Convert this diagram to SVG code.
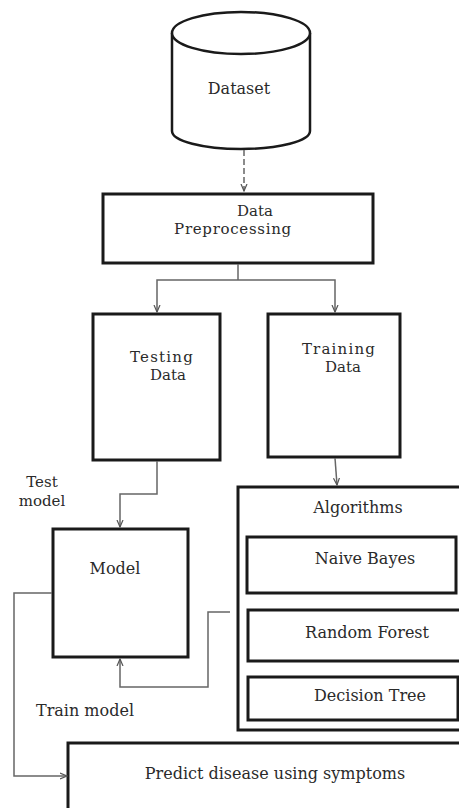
<svg xmlns="http://www.w3.org/2000/svg" width="459" height="808" viewBox="0 0 459 808">
<style>
.box{fill:#fff;stroke:#1a1a1a;stroke-width:3}
.conn{fill:none;stroke:#666;stroke-width:1.5}
text{font-family:"DejaVu Serif","Liberation Serif",serif;font-size:16px;fill:#2a2a2a;text-anchor:middle}
.two{font-size:15px}
</style>
<defs>
<marker id="arr" markerWidth="8" markerHeight="8" refX="7" refY="4" orient="auto" markerUnits="userSpaceOnUse">
<path d="M0,1 L7,4 L0,7" fill="none" stroke="#555" stroke-width="1.2"/>
</marker>
</defs>
<rect width="459" height="808" fill="#fff"/>
<g id="dataset">
<path d="M172,33 L172,131 A69,18 0 0 0 310,131 L310,33" fill="#fff" stroke="#1a1a1a" stroke-width="2.5"/>
<ellipse cx="241" cy="33" rx="69" ry="21" fill="#fff" stroke="#1a1a1a" stroke-width="2.5"/>
<text x="239" y="94">Dataset</text>
</g>
<g id="preprocessing">
<rect class="box" x="103" y="194" width="270" height="69"/>
<text class="two" x="255" y="216">Data</text>
<text class="two" x="233" y="234" style="letter-spacing:0.7px">Preprocessing</text>
</g>
<g id="testing">
<rect class="box" x="93" y="314" width="127" height="146"/>
<text class="two" x="162" y="362" style="letter-spacing:1.2px">Testing</text>
<text class="two" x="168" y="380">Data</text>
</g>
<g id="training">
<rect class="box" x="268" y="314" width="132" height="143"/>
<text class="two" x="339" y="354" style="letter-spacing:1.2px">Training</text>
<text class="two" x="343" y="372">Data</text>
</g>
<g id="algorithms">
<rect class="box" x="238" y="487" width="230" height="243"/>
<text x="358" y="513">Algorithms</text>
</g>
<g id="naive-bayes">
<rect class="box" x="247" y="537" width="209" height="56"/>
<text x="365" y="564">Naive Bayes</text>
</g>
<g id="random-forest">
<rect class="box" x="248" y="610" width="220" height="51"/>
<text x="367" y="638">Random Forest</text>
</g>
<g id="decision-tree">
<rect class="box" x="248" y="677" width="210" height="43"/>
<text x="370" y="701">Decision Tree</text>
</g>
<g id="model">
<rect class="box" x="53" y="529" width="135" height="128"/>
<text x="115" y="574">Model</text>
</g>
<g id="predict">
<rect class="box" x="68" y="743" width="410" height="80"/>
<text x="275" y="779">Predict disease using symptoms</text>
</g>
<g id="labels">
<text class="two" x="42" y="487">Test</text>
<text class="two" x="42" y="506">model</text>
<text x="85" y="716">Train model</text>
</g>
<g id="connectors">
<path class="conn" d="M244,150 L244,191" stroke-dasharray="6,3" marker-end="url(#arr)"/>
<path class="conn" d="M238,264 L238,280"/>
<path class="conn" d="M238,280 L157,280 L157,312" marker-end="url(#arr)"/>
<path class="conn" d="M238,280 L335,280 L335,312" marker-end="url(#arr)"/>
<path class="conn" d="M157,461 L157,494 L120,494 L120,527" marker-end="url(#arr)"/>
<path class="conn" d="M335,458 L337,485" marker-end="url(#arr)"/>
<path class="conn" d="M230,612 L208,612 L208,687 L120,687 L120,659" marker-end="url(#arr)"/>
<path class="conn" d="M52,593 L14,593 L14,776 L67,776" marker-end="url(#arr)"/>
</g>
</svg>
